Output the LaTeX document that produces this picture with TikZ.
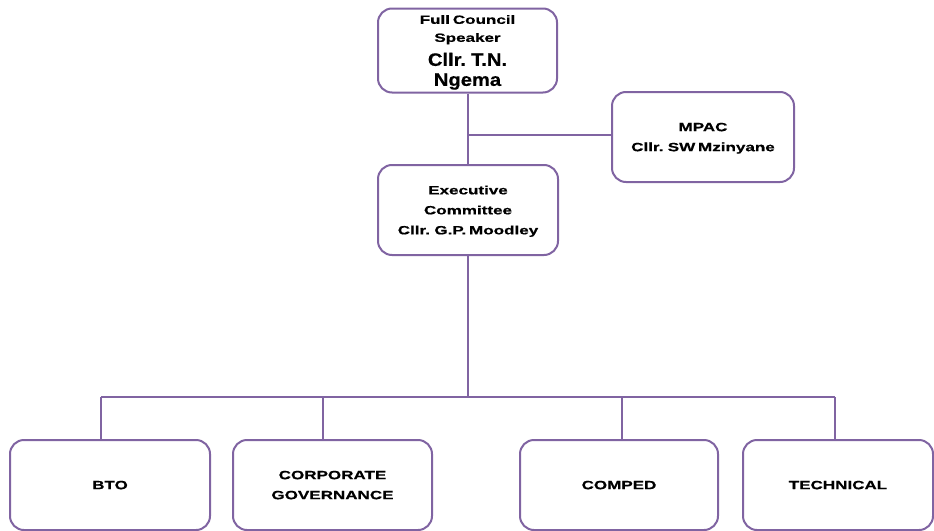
\documentclass[tikz,border=0pt]{standalone}
\usepackage{fontspec}
\setmainfont{Liberation Sans}[FakeStretch=1.42,FakeBold=0.6,WordSpace=0.6]
\newfontfamily\bigfont{Liberation Sans}[FakeStretch=1.12,FakeBold=0.6,WordSpace=0.6]
\definecolor{boxline}{RGB}{128,100,162}
\begin{document}
\begin{tikzpicture}[x=1pt,y=-1pt,
  box/.style={draw=boxline,line width=2pt,rounded corners=14pt,fill=white,align=center,
    font=\bfseries\fontsize{12}{20}\selectfont,inner sep=0pt,text depth=0pt},
  conn/.style={draw=boxline,line width=2pt}]
\useasboundingbox (0,0) rectangle (934,530);
\node[box,minimum width=179pt,minimum height=84pt] (fc) at (467.5,50.5)
  {\fontsize{12}{18}\selectfont Full Council\\[-2pt] \fontsize{12}{18}\selectfont Speaker\\[4pt] \bigfont\bfseries\fontsize{18}{22}\selectfont Cllr. T.N.\\ \bigfont\bfseries\fontsize{18}{22}\selectfont Ngema};
\node[box,minimum width=182pt,minimum height=90pt] (mpac) at (703,137) {MPAC\\Cllr. SW Mzinyane};
\node[box,minimum width=180pt,minimum height=90pt] (ex) at (468,210) {Executive\\Committee\\Cllr. G.P. Moodley};
\node[box,minimum width=200pt,minimum height=90pt] (bto) at (110,485) {BTO};
\node[box,minimum width=199pt,minimum height=90pt] (cg) at (332.5,485) {CORPORATE\\GOVERNANCE};
\node[box,minimum width=198pt,minimum height=90pt] (cp) at (619,485) {COMPED};
\node[box,minimum width=190pt,minimum height=90pt] (te) at (838,485) {TECHNICAL};
\coordinate (j1) at (468,135);
\coordinate (j2) at (468,397);
\draw[conn] (fc.south -| j1) -- (ex.north -| j1);
\draw[conn] (j1) -- (mpac.west |- j1);
\draw[conn] (ex.south -| j2) -- (j2);
\draw[conn] (101,397) coordinate (l) -- (835,397) coordinate (r);
\draw[conn] (l) -- (l |- bto.north);
\draw[conn] (323,397) coordinate (m1) -- (m1 |- cg.north);
\draw[conn] (622,397) coordinate (m2) -- (m2 |- cp.north);
\draw[conn] (r) -- (r |- te.north);
\end{tikzpicture}
\end{document}
